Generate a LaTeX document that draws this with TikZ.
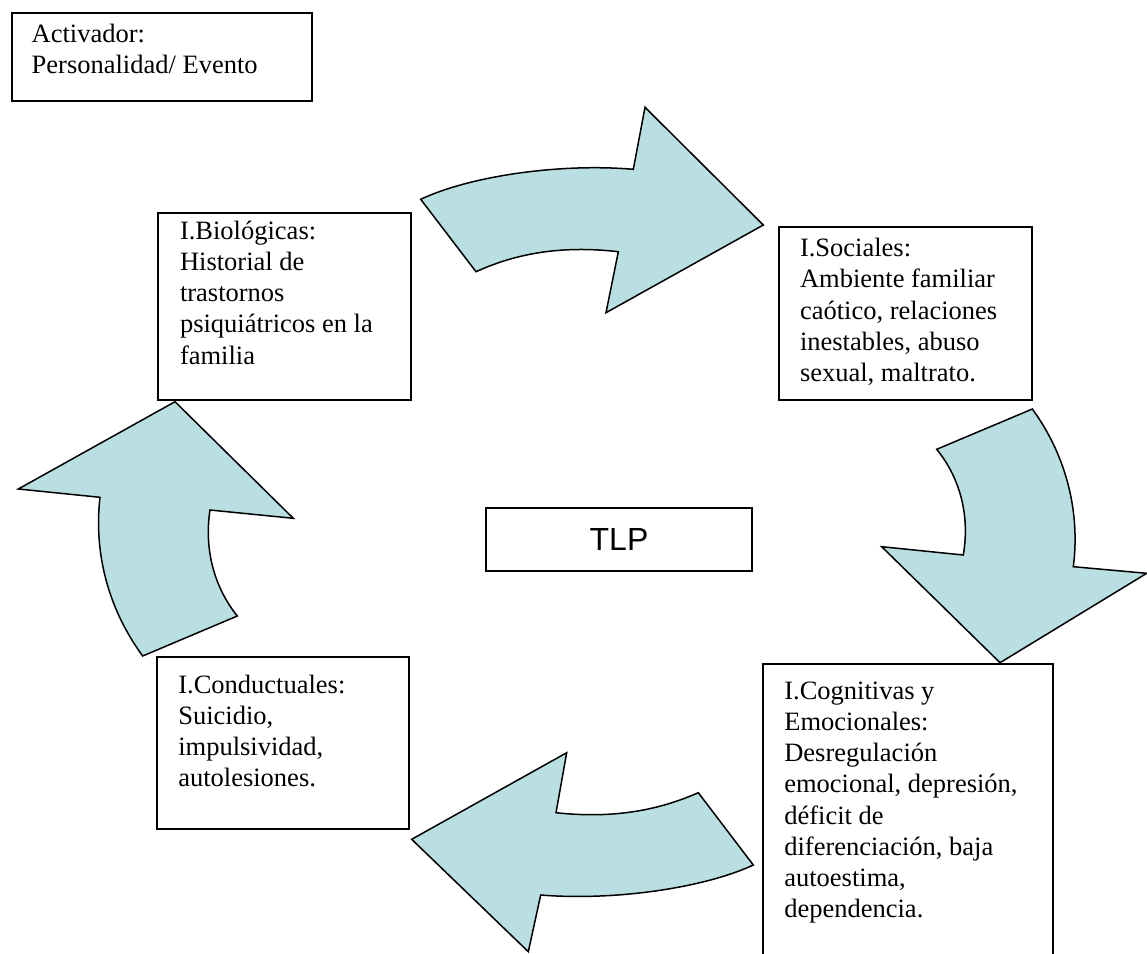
\documentclass[tikz,border=0pt]{standalone}
\usepackage{fontspec}
\setmainfont{Liberation Serif}
\newfontfamily\tlpsans{Liberation Sans}
\definecolor{arrowfill}{RGB}{186,223,226}
\begin{document}
\begin{tikzpicture}[x=1pt,y=-1pt,
  box/.style={draw=black, line width=1.6pt, inner sep=0pt, outer sep=0pt, anchor=north west, fill=white},
  txt/.style={anchor=north west, inner sep=0pt, outer sep=0pt, align=left, font=\fontsize{26.5}{31.2}\selectfont},
  bigarrow/.style={draw=black, line width=1.5pt, fill=arrowfill, line join=miter}]
\useasboundingbox (0,0) rectangle (1147,953);
\clip (0,0) rectangle (1147,953);

% boxes
\node[box, minimum width=300pt, minimum height=88pt] (act) at (12,13) {};
\node[box, minimum width=253pt, minimum height=187pt] (bio) at (158,213) {};
\node[box, minimum width=253pt, minimum height=173pt] (soc) at (779,227) {};
\node[box, minimum width=266pt, minimum height=63pt] (tlp) at (486,508) {};
\node[box, minimum width=252pt, minimum height=172pt] (cond) at (157,657) {};
\node[box, minimum width=290pt, minimum height=330pt] (cog) at (763,664) {};

% texts
\node[txt] (actt) at ([shift={(19.7,7.8)}]act.north west) {\strut Activador:\\Personalidad/ Evento};
\node[txt] (biot) at ([shift={(22,4.4)}]bio.north west) {\strut I.Biológicas:\\Historial de\\trastornos\\psiquiátricos en la\\familia};
\node[txt] (soct) at ([shift={(21,7.8)}]soc.north west) {\strut I.Sociales:\\Ambiente familiar\\caótico, relaciones\\inestables, abuso\\sexual, maltrato.};
\node[font=\tlpsans\fontsize{32}{38}\selectfont, inner sep=0pt] (tlpt) at (tlp.center) {TLP};
\node[txt] (condt) at ([shift={(21.3,14.4)}]cond.north west) {\strut I.Conductuales:\\Suicidio,\\impulsividad,\\autolesiones.};
\node[txt] (cogt) at ([shift={(21.3,13.4)}]cog.north west) {\strut I.Cognitivas y\\Emocionales:\\Desregulación\\emocional, depresión,\\déficit de\\diferenciación, baja\\autoestima,\\dependencia.};

% top arrow (biologicas -> sociales)
\draw[bigarrow] (420.7,199.3) .. controls (470,176) and (560,163) .. (633.3,169.3)
  -- (645,107.3) -- (763.3,225) -- (606,312.7) -- (618.3,251.7)
  .. controls (560,245) and (515,254) .. (476,271.7) -- cycle;

% right arrow (sociales -> cognitivas)
\draw[bigarrow] (1032.3,409) -- (936.7,449.3) .. controls (960,478) and (970,515) .. (963.3,555)
  -- (881.7,546.7) -- (1000,662.7) -- (1146.7,573.3) -- (1073.3,566.7)
  .. controls (1080,515) and (1068,458) .. (1032.3,409) -- cycle;

% bottom arrow (cognitivas -> conductuales)
\draw[bigarrow] (753.3,865) .. controls (704,888) and (614,901) .. (540.7,895)
  -- (528.3,951.7) -- (411.7,839.3) -- (566.7,752.7) -- (556,812.7)
  .. controls (614,819) and (659,810) .. (698.3,792.7) -- cycle;

% left arrow (conductuales -> biologicas)
\draw[bigarrow] (142.7,656) -- (237.3,616) .. controls (214,587) and (204,549) .. (210,510)
  -- (293.3,518.3) -- (175,401.7) -- (18.3,489) -- (100,497.3)
  .. controls (94,549) and (106,606) .. (142.7,656) -- cycle;
\end{tikzpicture}
\end{document}
